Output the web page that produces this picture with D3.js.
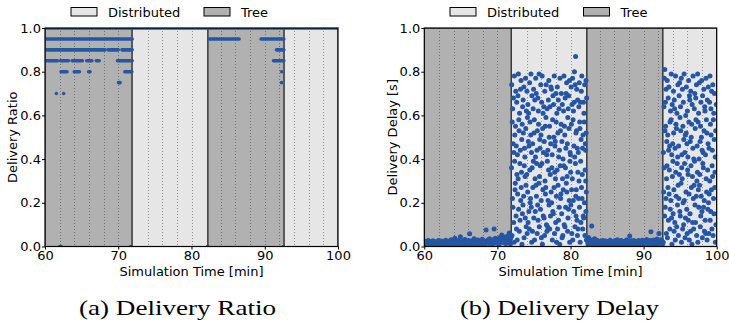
<!DOCTYPE html>
<html>
<head>
<meta charset="utf-8">
<script src="https://cdn.jsdelivr.net/npm/d3@7"></script>
<style>
  html, body { margin: 0; padding: 0; background: #fff; }
  svg { display: block; }
  text { font-family: "DejaVu Sans", sans-serif; fill: #000; }
</style>
</head>
<body>
<div id="chart"></div>
<script>
// Mode switches along the time axis (minutes) and the mode of each interval
const modeBounds = [60, 71.9, 82.25, 92.65, 100];
const modeNames = ['Tree', 'Distributed', 'Tree', 'Distributed'];
const legendLabels = ['Distributed', 'Tree'];

const xTicks = [60, 70, 80, 90, 100];
const yTicks = [0, 0.2, 0.4, 0.6, 0.8, 1.0];
const gridTimes = [62, 64, 66, 68, 70, 74, 76, 78, 80, 84, 86, 88, 90, 92, 94, 96, 98];

// Delivery ratio: runs of consecutive samples at one level [ratio, fromMin, toMin]
const ratioRuns = [
  [1.0, 60, 100],
  [0.95, 60, 71.9], [0.95, 82.4, 86.5], [0.95, 89.5, 92.6],
  [0.9, 60, 68.2], [0.9, 68.6, 70.0], [0.9, 70.5, 71.9], [0.9, 91.6, 92.6],
  [0.85, 60.1, 61.7], [0.85, 62.1, 63.2], [0.85, 63.7, 65.1], [0.85, 65.7, 66.4],
  [0.85, 67.0, 67.4], [0.85, 69.9, 71.9], [0.85, 91.2, 92.6],
  [0.8, 62.2, 63.0], [0.8, 64.0, 64.7], [0.8, 65.95, 66.15], [0.8, 70.9, 71.85], [0.8, 92.3, 92.3],
  [0.75, 70.05, 70.25], [0.75, 92.3, 92.3],
  [0.7, 61.55, 61.55], [0.7, 62.55, 62.55],
  [0.0, 62.0, 62.2], [0.0, 71.7, 71.7], [0.0, 82.2, 82.2], [0.0, 92.55, 92.55]
];

// Delivery delay samples [minute, seconds], one array per interval
const delayTree1 = [
  [60.05,.012],[60.15,.024],[60.3,.008],[60.42,.019],[60.55,.027],[60.68,.01],[60.8,.021],[60.92,.005],[61.05,.016],[61.18,.026],
  [61.3,.011],[61.43,.02],[61.55,.007],[61.68,.023],[61.8,.014],[61.93,.028],[62.05,.009],[62.18,.018],[62.3,.025],[62.42,.006],
  [62.55,.015],[62.68,.022],[62.8,.011],[62.93,.029],[63.05,.017],[63.18,.008],[63.3,.024],[63.42,.013],[63.55,.02],[63.68,.031],
  [63.8,.01],[63.93,.018],[64.05,.026],[64.18,.038],[64.3,.012],[64.42,.021],[64.55,.007],[64.68,.027],[64.8,.016],[64.93,.045],
  [65.05,.019],[65.18,.01],[65.3,.025],[65.42,.014],[65.55,.032],[65.68,.008],[65.8,.022],[65.93,.017],[66.05,.028],[66.2,.058],
  [66.3,.011],[66.42,.02],[66.55,.026],[66.68,.013],[66.8,.035],[66.93,.009],[67.05,.023],[67.18,.016],[67.3,.03],[67.42,.012],
  [67.55,.021],[67.68,.027],[67.8,.008],[67.93,.033],[68.05,.018],[68.18,.025],[68.3,.011],[68.45,.075],[68.55,.022],[68.68,.03],
  [68.8,.014],[68.93,.036],[69.05,.019],[69.18,.026],[69.3,.01],[69.42,.031],[69.55,.08],[69.6,.021],[69.72,.038],[69.85,.015],
  [69.97,.027],[70.1,.033],[70.22,.012],[70.35,.041],[70.48,.024],[70.6,.053],[70.7,.018],[70.82,.035],[70.95,.028],[71.05,.044],
  [71.15,.014],[71.25,.037],[71.35,.025],[71.45,.048],[71.55,.02],[71.62,.062],[71.7,.032],[71.78,.012],[71.85,.04]
];

const delayDist1 = [
  [71.93,.36],[71.96,.74],[71.99,.05],[72.03,.57],[72.06,.22],[72.09,.63],[72.12,.18],[72.15,.47],
  [72.19,.68],[72.22,.11],[72.25,.43],[72.29,.02],[72.32,.78],[72.35,.39],[72.38,.51],[72.41,.26],
  [72.45,.29],[72.48,.55],[72.51,.71],[72.55,.14],[72.58,.46],[72.61,.08],[72.64,.66],[72.67,.33],
  [72.71,.03],[72.74,.42],[72.77,.24],[72.81,.69],[72.84,.31],[72.87,.79],[72.9,.17],[72.93,.58],
  [72.97,.53],[73.0,.07],[73.03,.61],[73.07,.38],[73.1,.12],[73.13,.44],[73.16,.72],[73.19,.21],
  [73.23,.76],[73.26,.27],[73.29,.34],[73.33,.49],[73.36,.01],[73.39,.56],[73.42,.15],[73.45,.64],
  [73.49,.19],[73.52,.67],[73.55,.52],[73.59,.23],[73.62,.73],[73.65,.04],[73.68,.37],[73.71,.45],
  [73.75,.41],[73.78,.32],[73.81,.13],[73.85,.77],[73.88,.54],[73.91,.28],[73.94,.09],[73.97,.62],
  [74.01,.33],[74.04,.71],[74.07,.06],[74.11,.59],[74.14,.25],[74.17,.65],[74.2,.11],[74.23,.48],
  [74.27,.61],[74.3,.16],[74.33,.46],[74.37,.08],[74.4,.75],[74.43,.35],[74.46,.57],[74.49,.2],
  [74.53,.22],[74.56,.51],[74.59,.79],[74.63,.18],[74.66,.43],[74.69,.02],[74.72,.69],[74.75,.36],
  [74.79,.07],[74.82,.47],[74.85,.27],[74.89,.63],[74.92,.39],[74.95,.72],[74.98,.13],[75.01,.52],
  [75.05,.58],[75.08,.03],[75.11,.67],[75.15,.31],[75.18,.16],[75.21,.41],[75.24,.77],[75.27,.28],
  [75.31,.7],[75.34,.23],[75.37,.38],[75.41,.44],[75.44,.06],[75.47,.53],[75.5,.19],[75.53,.68],
  [75.57,.12],[75.6,.62],[75.63,.56],[75.67,.29],[75.7,.79],[75.73,.09],[75.76,.32],[75.79,.49],
  [75.83,.45],[75.86,.37],[75.89,.17],[75.93,.74],[75.96,.51],[75.99,.21],[76.02,.04],[76.05,.66],
  [76.09,.38],[76.12,.78],[76.15,.01],[76.19,.54],[76.22,.26],[76.25,.61],[76.28,.14],[76.31,.43],
  [76.35,.64],[76.38,.13],[76.41,.48],[76.45,.05],[76.48,.71],[76.51,.3],[76.54,.55],[76.57,.24],
  [76.61,.27],[76.64,.59],[76.67,.74],[76.71,.1],[76.74,.42],[76.77,.07],[76.8,.63],[76.83,.39],
  [76.87,.09],[76.9,.44],[76.93,.21],[76.97,.67],[77.0,.35],[77.03,.76],[77.06,.19],[77.09,.5],
  [77.13,.55],[77.16,.08],[77.19,.64],[77.23,.33],[77.26,.14],[77.29,.47],[77.32,.73],[77.35,.25],
  [77.39,.72],[77.42,.2],[77.45,.36],[77.49,.42],[77.52,.03],[77.55,.58],[77.58,.16],[77.61,.69],
  [77.65,.15],[77.68,.65],[77.71,.5],[77.75,.27],[77.78,.78],[77.81,.06],[77.84,.34],[77.87,.46],
  [77.91,.48],[77.94,.31],[77.97,.11],[78.01,.7],[78.04,.57],[78.07,.23],[78.1,.02],[78.13,.61],
  [78.17,.35],[78.2,.73],[78.23,.08],[78.27,.52],[78.3,.28],[78.33,.67],[78.36,.12],[78.39,.41],
  [78.43,.63],[78.46,.18],[78.49,.44],[78.53,.01],[78.56,.77],[78.59,.37],[78.62,.53],[78.65,.22],
  [78.69,.24],[78.72,.56],[78.75,.7],[78.79,.15],[78.82,.48],[78.85,.04],[78.88,.65],[78.91,.31],
  [78.95,.05],[78.98,.4],[79.01,.26],[79.05,.62],[79.08,.37],[79.11,.78],[79.14,.1],[79.17,.55],
  [79.21,.51],[79.24,.09],[79.27,.68],[79.31,.36],[79.34,.18],[79.37,.45],[79.4,.7],[79.43,.29],
  [79.47,.75],[79.5,.25],[79.53,.32],[79.57,.47],[79.6,.07],[79.63,.59],[79.66,.13],[79.69,.63],
  [79.73,.17],[79.76,.69],[79.79,.54],[79.83,.21],[79.86,.76],[79.89,.02],[79.92,.39],[79.95,.43],
  [79.99,.42],[80.02,.34],[80.05,.19],[80.09,.73],[80.12,.56],[80.15,.26],[80.18,.06],[80.21,.65],
  [80.25,.31],[80.28,.77],[80.31,.03],[80.35,.58],[80.38,.21],[80.41,.62],[80.44,.16],[80.47,.46],
  [80.51,.66],[80.54,.8],[80.57,.41],[80.61,.09],[80.64,.74],[80.67,.38],[80.7,.87],[80.73,.23],[80.75,.52],[80.76,.14],
  [80.79,.26],[80.82,.53],[80.85,.72],[80.89,.12],[80.92,.45],[80.95,.05],[80.98,.67],[81.01,.34],
  [81.04,.08],[81.07,.43],[81.1,.22],[81.14,.64],[81.17,.3],[81.2,.75],[81.23,.18],[81.26,.57],
  [81.29,.54],[81.32,.02],[81.35,.66],[81.39,.39],[81.42,.11],[81.45,.49],[81.48,.71],[81.51,.27],
  [81.55,.78],[81.58,.22],[81.61,.33],[81.65,.45],[81.68,.08],[81.71,.51],[81.74,.14],[81.77,.66],
  [81.81,.13],[81.84,.61],[81.87,.57],[81.91,.2],[81.94,.74],[81.97,.05],[82.0,.35],[82.03,.47],
  [82.06,.44],[82.08,.3],[82.1,.16],[82.12,.76],[82.14,.52],[82.16,.25],[82.18,.03],[82.21,.68]
];

const delayTree2 = [
  [82.3,.028],[82.38,.012],[82.45,.041],[82.52,.02],[82.6,.033],[82.68,.008],[82.75,.025],[82.85,.017],[82.9,.094],[82.98,.03],
  [83.08,.011],[83.18,.022],[83.3,.036],[83.42,.009],[83.55,.019],[83.68,.027],[83.8,.013],[83.93,.021],[84.05,.006],[84.18,.024],
  [84.3,.015],[84.42,.028],[84.55,.01],[84.68,.019],[84.8,.025],[84.93,.007],[85.05,.017],[85.18,.023],[85.3,.012],[85.42,.029],
  [85.55,.016],[85.68,.008],[85.8,.022],[85.93,.014],[86.05,.026],[86.18,.011],[86.3,.019],[86.42,.031],[86.55,.009],[86.68,.021],
  [86.8,.015],[86.93,.027],[87.05,.012],[87.18,.02],[87.3,.006],[87.42,.024],[87.55,.017],[87.68,.03],[87.8,.01],[87.93,.022],
  [88.1,.048],[88.18,.014],[88.3,.026],[88.42,.009],[88.55,.019],[88.68,.028],[88.8,.013],[88.93,.023],[89.05,.007],[89.18,.018],
  [89.3,.027],[89.42,.012],[89.55,.021],[89.68,.016],[89.8,.029],[89.93,.01],[90.05,.024],[90.18,.015],[90.3,.02],[90.42,.032],
  [90.55,.011],[90.68,.025],[90.8,.017],[90.93,.028],[91.0,.068],[91.1,.013],[91.22,.022],[91.35,.03],[91.48,.009],[91.6,.026],
  [91.72,.018],[91.85,.034],[91.97,.012],[92.1,.06],[92.18,.024],[92.3,.016],[92.42,.031],[92.52,.02],[92.6,.011]
];

const delayDist2 = [
  [92.68,.02],[92.71,.43],[92.74,.25],[92.78,.64],[92.81,.36],[92.84,.77],[92.87,.14],[92.9,.81],[92.92,.53],
  [92.95,.18],[92.98,.66],[93.01,.55],[93.05,.22],[93.08,.72],[93.11,.06],[93.14,.31],[93.17,.48],
  [93.2,.37],[93.23,.76],[93.26,.04],[93.3,.51],[93.33,.27],[93.36,.68],[93.39,.12],[93.42,.44],
  [93.46,.73],[93.49,.24],[93.52,.35],[93.56,.46],[93.59,.08],[93.62,.57],[93.65,.17],[93.68,.62],
  [93.72,.21],[93.75,.58],[93.78,.79],[93.82,.13],[93.85,.42],[93.88,.01],[93.91,.65],[93.94,.32],
  [93.98,.47],[94.01,.39],[94.04,.15],[94.08,.71],[94.11,.52],[94.14,.26],[94.17,.07],[94.2,.67],
  [94.24,.63],[94.27,.11],[94.3,.45],[94.34,.03],[94.37,.78],[94.4,.34],[94.43,.56],[94.46,.23],
  [94.5,.54],[94.53,.09],[94.56,.61],[94.6,.38],[94.63,.19],[94.66,.41],[94.69,.74],[94.72,.28],
  [94.76,.05],[94.79,.46],[94.82,.22],[94.86,.69],[94.89,.33],[94.92,.75],[94.95,.16],[94.98,.59],
  [95.02,.14],[95.05,.64],[95.08,.53],[95.12,.29],[95.15,.77],[95.18,.02],[95.21,.36],[95.24,.42],
  [95.28,.31],[95.31,.72],[95.34,.08],[95.38,.55],[95.41,.2],[95.44,.66],[95.47,.1],[95.5,.49],
  [95.54,.79],[95.57,.21],[95.6,.38],[95.64,.43],[95.67,.04],[95.7,.51],[95.73,.13],[95.76,.6],
  [95.8,.25],[95.83,.52],[95.86,.73],[95.9,.17],[95.93,.47],[95.96,.06],[95.99,.62],[96.02,.35],
  [96.06,.41],[96.09,.33],[96.12,.12],[96.16,.76],[96.19,.57],[96.22,.24],[96.25,.03],[96.28,.69],
  [96.32,.67],[96.35,.15],[96.38,.48],[96.42,.07],[96.45,.71],[96.48,.37],[96.51,.5],[96.54,.27],
  [96.58,.56],[96.61,.01],[96.64,.65],[96.68,.32],[96.71,.11],[96.74,.45],[96.77,.78],[96.8,.22],
  [96.84,.08],[96.87,.4],[96.9,.28],[96.94,.63],[96.97,.39],[97.0,.7],[97.03,.19],[97.06,.54],
  [97.1,.11],[97.13,.68],[97.16,.58],[97.2,.23],[97.23,.74],[97.26,.05],[97.29,.3],[97.32,.46],
  [97.36,.34],[97.39,.79],[97.42,.02],[97.46,.57],[97.49,.26],[97.52,.61],[97.55,.18],[97.58,.4],
  [97.62,.75],[97.65,.28],[97.68,.33],[97.72,.48],[97.75,.09],[97.78,.55],[97.81,.14],[97.84,.66],
  [97.88,.23],[97.91,.5],[97.94,.76],[97.98,.16],[98.01,.44],[98.04,.04],[98.07,.69],[98.1,.38],
  [98.14,.43],[98.17,.36],[98.2,.18],[98.24,.72],[98.27,.53],[98.3,.21],[98.33,.07],[98.36,.64],
  [98.4,.62],[98.43,.12],[98.46,.42],[98.5,.06],[98.53,.77],[98.56,.31],[98.59,.58],[98.62,.25],
  [98.66,.52],[98.69,.03],[98.72,.67],[98.76,.35],[98.79,.17],[98.82,.47],[98.85,.73],[98.88,.2],
  [98.92,.06],[98.95,.45],[98.98,.24],[99.02,.66],[99.05,.3],[99.08,.78],[99.11,.12],[99.14,.56],
  [99.18,.16],[99.21,.63],[99.24,.51],[99.28,.26],[99.31,.71],[99.34,.08],[99.37,.37],[99.4,.44],
  [99.44,.32],[99.47,.74],[99.5,.05],[99.54,.58],[99.57,.22],[99.6,.61],[99.63,.15],[99.66,.49],
  [99.7,.7],[99.73,.27],[99.76,.34],[99.8,.41],[99.83,.02],[99.86,.53],[99.89,.1],[99.94,.65]
];

const W = 729, H = 326;
const TOP = 28, BOTTOM = 246.5;
const DOT = '#2456a5';
const modeFill = { Tree: '#b1b1b1', Distributed: '#e6e6e6' };

const svg = d3.select('#chart').append('svg')
  .attr('width', W)
  .attr('height', H);

svg.append('rect').attr('width', W).attr('height', H).attr('fill', '#fff');

function drawPanel(opts) {
  const x = d3.scaleLinear().domain([60, 100]).range([opts.left, opts.right]);
  const y = d3.scaleLinear().domain([0, 1]).range([BOTTOM, TOP]);
  const g = svg.append('g');

  // Clip everything inside the axes box
  g.append('clipPath').attr('id', opts.id + '-clip')
    .append('rect')
    .attr('x', opts.left).attr('y', TOP)
    .attr('width', opts.right - opts.left).attr('height', BOTTOM - TOP);

  const plot = g.append('g').attr('clip-path', `url(#${opts.id}-clip)`);

  // Shaded intervals for each mode
  plot.selectAll('rect.mode')
    .data(modeNames)
    .enter().append('rect')
    .attr('class', 'mode')
    .attr('x', (d, i) => x(modeBounds[i]))
    .attr('y', TOP)
    .attr('width', (d, i) => x(modeBounds[i + 1]) - x(modeBounds[i]))
    .attr('height', BOTTOM - TOP)
    .attr('fill', d => modeFill[d])
    .attr('stroke', '#1a1a1a')
    .attr('stroke-width', 1);

  // Dotted vertical markers
  plot.selectAll('line.grid')
    .data(gridTimes)
    .enter().append('line')
    .attr('class', 'grid')
    .attr('x1', d => Math.round(x(d)) + 0.5)
    .attr('x2', d => Math.round(x(d)) + 0.5)
    .attr('y1', TOP)
    .attr('y2', BOTTOM)
    .attr('stroke', '#222')
    .attr('stroke-opacity', 0.55)
    .attr('stroke-width', 0.8)
    .attr('stroke-dasharray', '1,2');

  opts.drawData(plot, x, y);

  // Axes frame
  g.append('rect')
    .attr('x', opts.left).attr('y', TOP)
    .attr('width', opts.right - opts.left).attr('height', BOTTOM - TOP)
    .attr('fill', 'none')
    .attr('stroke', '#000')
    .attr('stroke-width', 1.2);

  const yAxis = g.append('g')
    .attr('transform', `translate(${opts.left},0)`)
    .call(d3.axisLeft(y).tickValues(yTicks).tickFormat(d3.format('.1f')).tickSize(3).tickPadding(1));
  yAxis.select('.domain').remove();
  yAxis.selectAll('text').style('font-size', '13px').style('font-family', '"DejaVu Sans", sans-serif');

  const xAxis = g.append('g')
    .attr('transform', `translate(0,${BOTTOM})`)
    .call(d3.axisBottom(x).tickValues(xTicks).tickFormat(d3.format('d')).tickSize(3).tickPadding(1));
  xAxis.select('.domain').remove();
  xAxis.selectAll('text').style('font-size', '13px').style('font-family', '"DejaVu Sans", sans-serif');

  // Axis titles
  g.append('text')
    .attr('x', (opts.left + opts.right) / 2)
    .attr('y', 275.5)
    .attr('text-anchor', 'middle')
    .attr('font-size', '13px')
    .text('Simulation Time [min]');

  g.append('text')
    .attr('transform', `translate(${opts.yLabelX},${(TOP + BOTTOM) / 2}) rotate(-90)`)
    .attr('text-anchor', 'middle')
    .attr('dy', '0.35em')
    .attr('font-size', '13px')
    .text(opts.yLabel);

  // Legend above the axes
  const legend = g.append('g');
  legendLabels.forEach((name, i) => {
    const lx = opts.legendX[i];
    legend.append('rect')
      .attr('x', lx).attr('y', 7.5)
      .attr('width', 26).attr('height', 8.5)
      .attr('fill', modeFill[name])
      .attr('stroke', '#000')
      .attr('stroke-width', 1);
    legend.append('text')
      .attr('x', lx + 37)
      .attr('y', 17)
      .attr('font-size', '13px')
      .text(name);
  });

  // Sub-figure caption
  g.append('text')
    .attr('x', opts.captionX)
    .attr('y', 315)
    .attr('font-family', '"Liberation Serif", serif')
    .attr('font-size', '22px')
    .attr('textLength', opts.captionW)
    .attr('lengthAdjust', 'spacingAndGlyphs')
    .style('font-family', '"Liberation Serif", serif')
    .text(opts.caption);
}

// (a) delivery ratio
drawPanel({
  id: 'ratio',
  left: 45, right: 338,
  yLabel: 'Delivery Ratio', yLabelX: 12,
  legendX: [71, 204],
  caption: '(a) Delivery Ratio', captionX: 79, captionW: 197,
  drawData: (plot, x, y) => {
    plot.selectAll('line.run')
      .data(ratioRuns)
      .enter().append('line')
      .attr('class', 'run')
      .attr('x1', d => x(d[1]))
      .attr('x2', d => x(d[2]))
      .attr('y1', d => y(d[0]))
      .attr('y2', d => y(d[0]))
      .attr('stroke', DOT)
      .attr('stroke-width', 3.6)
      .attr('stroke-linecap', 'round');
  }
});

// (b) delivery delay
drawPanel({
  id: 'delay',
  left: 424.3, right: 716.7,
  yLabel: 'Delivery Delay [s]', yLabelX: 392,
  legendX: [450, 583.5],
  caption: '(b) Delivery Delay', captionX: 460, captionW: 199,
  drawData: (plot, x, y) => {
    const samples = [].concat(delayTree1, delayDist1, delayTree2, delayDist2);
    plot.selectAll('circle.sample')
      .data(samples)
      .enter().append('circle')
      .attr('class', 'sample')
      .attr('cx', d => x(d[0]))
      .attr('cy', d => y(d[1]))
      .attr('r', 2.5)
      .attr('fill', DOT);
  }
});
</script>
</body>
</html>
